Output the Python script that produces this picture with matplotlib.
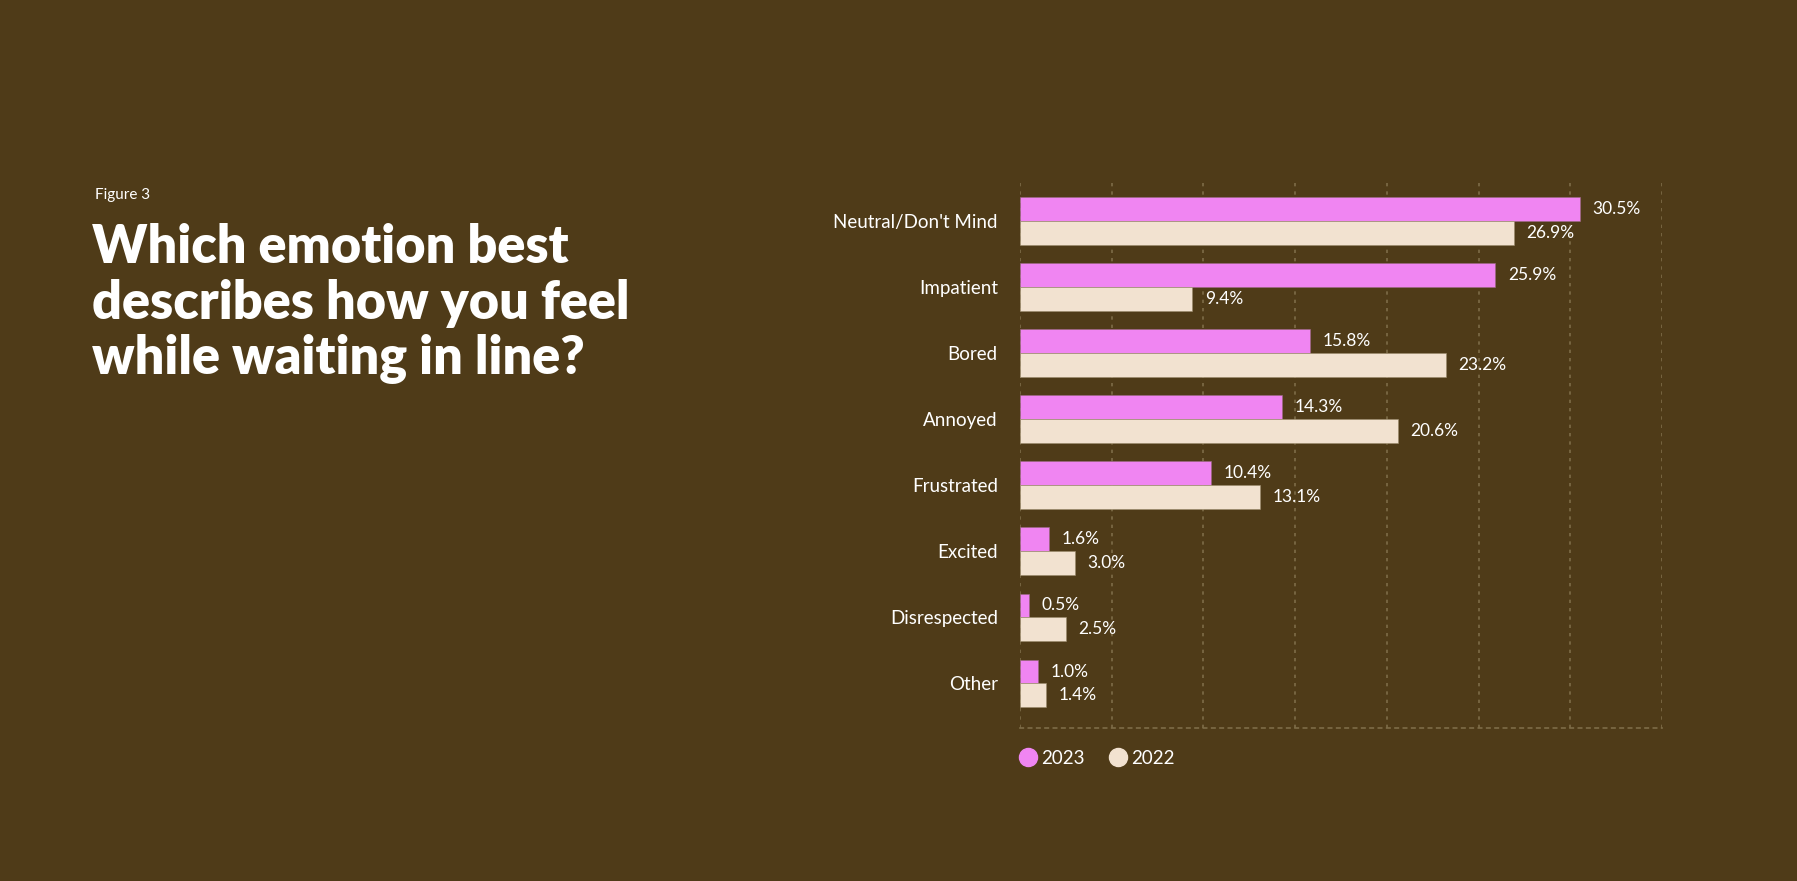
import numpy as np
import matplotlib.pyplot as plt
from matplotlib.lines import Line2D

categories = ['Neutral/Don\'t Mind', 'Impatient', 'Bored', 'Annoyed', 'Frustrated',
              'Excited', 'Disrespected', 'Other']
vals_2023 = [30.5, 25.9, 15.8, 14.3, 10.4, 1.6, 0.5, 1.0]
vals_2022 = [26.9, 9.4, 23.2, 20.6, 13.1, 3.0, 2.5, 1.4]
series_names = ['2023', '2022']

bg = '#4f3b18'
pink = '#f085f2'
beige = '#f2e2d0'
gridc = '#7d6c47'
txt = '#ffffff'

plt.rcParams['font.family'] = ['Lato', 'DejaVu Sans']

fig = plt.figure(figsize=(17.97, 8.81), dpi=100, facecolor=bg)
ax = fig.add_axes([0.5676, 0.174, 0.3574, 0.618])
ax.set_facecolor(bg)

y = np.arange(len(categories))
h = 0.36
ax.barh(y - h / 2, vals_2023, height=h, color=pink, edgecolor='#9a6a80', linewidth=0.4, zorder=3)
ax.barh(y + h / 2, vals_2022, height=h, color=beige, edgecolor='#9a8a6a', linewidth=0.4, zorder=3)

for i in range(len(categories)):
    ax.annotate('%.1f%%' % vals_2023[i], (vals_2023[i], y[i] - h / 2), xytext=(9, 0),
                textcoords='offset points', va='center', ha='left', color=txt, fontsize=12.5)
    ax.annotate('%.1f%%' % vals_2022[i], (vals_2022[i], y[i] + h / 2), xytext=(9, 0),
                textcoords='offset points', va='center', ha='left', color=txt, fontsize=12.5)

ax.set_xlim(0, 35)
ax.set_ylim(7.67, -0.57)
ax.set_xticks(np.arange(0, 36, 5))
ax.set_xticklabels([])
ax.tick_params(axis='x', length=0)
ax.set_yticks(y)
ax.set_yticklabels(categories, color=txt, fontsize=13.5)
ax.tick_params(axis='y', length=0, pad=16)
ax.grid(axis='x', color=gridc, linestyle=(0, (2, 3)), linewidth=1.2, zorder=0)
for s in ['top', 'right', 'left']:
    ax.spines[s].set_visible(False)
ax.spines['bottom'].set_color(gridc)
ax.spines['bottom'].set_linestyle((0, (2, 3)))
ax.spines['bottom'].set_linewidth(1.2)

handles = [Line2D([], [], marker='o', linestyle='', markersize=13, color=pink),
           Line2D([], [], marker='o', linestyle='', markersize=13, color=beige)]
ax.legend(handles, series_names, loc='upper left', bbox_to_anchor=(-0.032, -0.01), ncol=2,
          frameon=False, fontsize=13.5, labelcolor=txt, handletextpad=0.1, columnspacing=1.2,
          handlelength=1.2)

fig.text(0.053, 0.779, 'Figure 3', color=txt, fontsize=11, va='center', ha='left')
fig.text(0.051, 0.747, 'Which emotion best\ndescribes how you feel\nwhile waiting in line?',
         color=txt, fontsize=37.5, fontweight='heavy', va='top', ha='left', linespacing=1.17)

fig.savefig('out.png', dpi=100, facecolor=bg)
